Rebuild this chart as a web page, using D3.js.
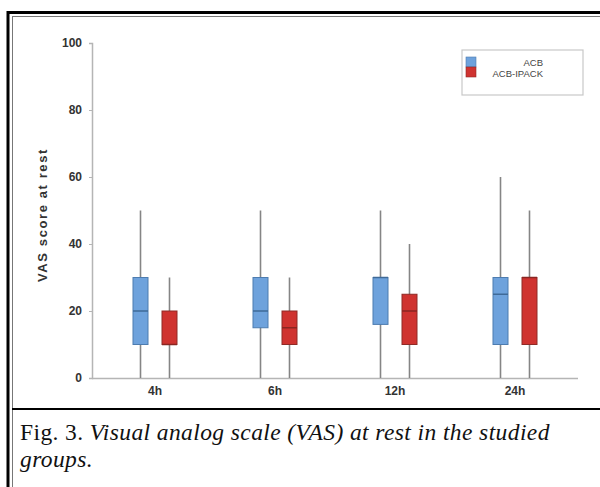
<!DOCTYPE html>
<html>
<head>
<meta charset="utf-8">
<script src="https://cdn.jsdelivr.net/npm/d3@7"></script>
<style>
  body { margin: 0; background: #fff; }
  .tick text { font-family: "Liberation Sans", Arial, sans-serif; font-weight: bold; fill: #333; }
</style>
</head>
<body>
<div id="chart"></div>
<script>
var svgWidth = 600;
var svgHeight = 487;

// Data
var groups = ["4h", "6h", "12h", "24h"];
var series = ["ACB", "ACB-IPACK"];
var whiskerLow  = [[0, 0], [0, 0], [0, 0], [0, 0]];
var q1          = [[10, 10], [15, 10], [16, 10], [10, 10]];
var medians     = [[20, 10], [20, 15], [30, 20], [25, 30]];
var q3          = [[30, 20], [30, 20], [30, 25], [30, 30]];
var whiskerHigh = [[50, 30], [50, 30], [50, 40], [60, 50]];
var yTicks = [0, 20, 40, 60, 80, 100];

var fills = ["#6ea2dc", "#cf3330"];
var strokes = ["#4d7cb0", "#8f2a26"];
var medianColors = ["#3f6a98", "#8a2622"];

var svg = d3.select("#chart").append("svg")
  .attr("width", svgWidth)
  .attr("height", svgHeight);

// Frame
svg.append("rect").attr("x", 0).attr("y", 0).attr("width", svgWidth).attr("height", svgHeight).attr("fill", "#fff");
svg.append("line").attr("x1", 8).attr("x2", svgWidth).attr("y1", 12.5).attr("y2", 12.5)
  .attr("stroke", "#000").attr("stroke-width", 3);
svg.append("line").attr("x1", 8).attr("x2", 8).attr("y1", 11).attr("y2", svgHeight)
  .attr("stroke", "#000").attr("stroke-width", 3);
svg.append("line").attr("x1", 12.5).attr("x2", svgWidth).attr("y1", 16.5).attr("y2", 16.5)
  .attr("stroke", "#777").attr("stroke-width", 1);
svg.append("line").attr("x1", 12.5).attr("x2", 12.5).attr("y1", 16).attr("y2", svgHeight)
  .attr("stroke", "#777").attr("stroke-width", 1);
svg.append("line").attr("x1", 12).attr("x2", svgWidth).attr("y1", 409).attr("y2", 409)
  .attr("stroke", "#000").attr("stroke-width", 2);

// Scales
var x = d3.scaleBand().domain(groups).range([95, 575]);
var inner = d3.scaleBand().domain(series).range([-29, 29]);
var y = d3.scaleLinear().domain([0, 100]).range([378, 43]);
var boxWidth = 15;

// Axes
var leftAxis = d3.axisLeft(y).tickValues(yTicks).tickSize(3).tickPadding(7);
var yAxisG = svg.append("g").attr("transform", "translate(92,0)").call(leftAxis);
yAxisG.select(".domain").attr("stroke", "#b5b5b5").attr("stroke-width", 1.5);
yAxisG.selectAll(".tick line").attr("stroke", "#b5b5b5");
yAxisG.selectAll(".tick text").attr("font-size", 12);

var bottomAxis = d3.axisBottom(x).tickSize(0).tickPadding(8);
var xAxisG = svg.append("g").attr("transform", "translate(0,378)").call(bottomAxis);
xAxisG.select(".domain").attr("d", "M92,0.5H578").attr("stroke", "#b5b5b5").attr("stroke-width", 1.5);
xAxisG.selectAll(".tick text").attr("font-size", 12);

svg.append("text")
  .attr("transform", "rotate(-90)")
  .attr("x", -215)
  .attr("y", 47)
  .attr("text-anchor", "middle")
  .attr("font-family", "Liberation Sans, Arial, sans-serif")
  .attr("font-weight", "bold")
  .attr("font-size", 13)
  .attr("letter-spacing", 1.6)
  .attr("fill", "#333")
  .text("VAS score at rest");

// Boxes
var boxData = [];
groups.forEach(function(g, i) {
  series.forEach(function(s, j) {
    boxData.push({
      group: g, series: s, si: j,
      lo: whiskerLow[i][j], q1: q1[i][j], med: medians[i][j],
      q3: q3[i][j], hi: whiskerHigh[i][j]
    });
  });
});

var boxG = svg.selectAll(".box")
  .data(boxData)
  .enter()
  .append("g")
  .attr("class", "box")
  .attr("transform", d => `translate(${x(d.group) + x.bandwidth() / 2 + inner(d.series) + inner.bandwidth() / 2},0)`);

boxG.append("line")
  .attr("x1", 0).attr("x2", 0)
  .attr("y1", d => y(d.lo)).attr("y2", d => y(d.hi))
  .attr("stroke", "#858585").attr("stroke-width", 1.6);

boxG.append("rect")
  .attr("x", -boxWidth / 2)
  .attr("y", d => y(d.q3))
  .attr("width", boxWidth)
  .attr("height", d => y(d.q1) - y(d.q3))
  .attr("fill", d => fills[d.si])
  .attr("stroke", d => strokes[d.si])
  .attr("stroke-width", 1);

boxG.append("line")
  .attr("x1", -boxWidth / 2).attr("x2", boxWidth / 2)
  .attr("y1", d => y(d.med)).attr("y2", d => y(d.med))
  .attr("stroke", d => medianColors[d.si]).attr("stroke-width", 1.5);

// Legend
var legend = svg.append("g").attr("transform", "translate(462,50)");
legend.append("rect").attr("width", 121).attr("height", 45)
  .attr("fill", "#fff").attr("stroke", "#c8c8c8").attr("stroke-width", 1.2);
series.forEach(function(s, j) {
  legend.append("rect")
    .attr("x", 4).attr("y", 7 + j * 10)
    .attr("width", 10).attr("height", 10)
    .attr("fill", fills[j]).attr("stroke", strokes[j]).attr("stroke-width", 0.6);
  legend.append("text")
    .attr("x", 81).attr("y", 15.5 + j * 11)
    .attr("text-anchor", "end")
    .attr("font-family", "Liberation Sans, Arial, sans-serif")
    .attr("font-size", 9.5)
    .attr("fill", "#444")
    .text(s);
});

// Caption
var cap = svg.append("text")
  .attr("x", 20).attr("y", 440)
  .attr("font-family", "Liberation Serif, Times New Roman, serif")
  .attr("font-size", 23.5)
  .attr("letter-spacing", 0.4)
  .attr("fill", "#111");
cap.append("tspan").text("Fig. 3. ");
cap.append("tspan").attr("font-style", "italic").text("Visual analog scale (VAS) at rest in the studied");
svg.append("text")
  .attr("x", 20).attr("y", 467)
  .attr("font-family", "Liberation Serif, Times New Roman, serif")
  .attr("font-size", 23.5)
  .attr("letter-spacing", 0.4)
  .attr("font-style", "italic")
  .attr("fill", "#111")
  .text("groups.");
</script>
</body>
</html>
